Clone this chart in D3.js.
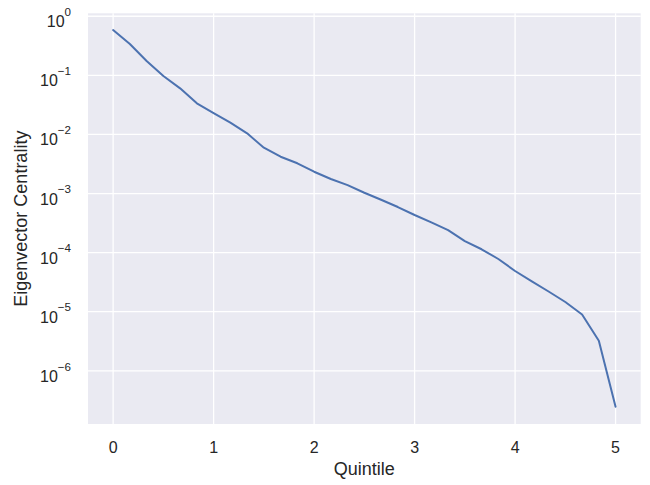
<!DOCTYPE html>
<html>
<head>
<meta charset="utf-8">
<script src="https://cdn.jsdelivr.net/npm/d3@7"></script>
<style>
  html, body { margin: 0; padding: 0; background: #ffffff; }
  svg { display: block; }
  text { font-family: "Liberation Sans", Arial, "DejaVu Sans", sans-serif; fill: #262626; }
</style>
</head>
<body>
<svg id="chart" width="650" height="485"></svg>
<script>
// Data (x = quintile, y = eigenvector centrality)
const xValues = [0, 1/6, 2/6, 3/6, 4/6, 5/6, 1, 7/6, 8/6, 9/6, 10/6, 11/6, 2, 13/6, 14/6, 15/6, 16/6, 17/6, 3,
                 19/6, 20/6, 21/6, 22/6, 23/6, 4, 25/6, 26/6, 27/6, 28/6, 29/6, 5];
const yValues = [0.584, 0.339, 0.175, 0.0973, 0.0603, 0.0336, 0.0230, 0.0158, 0.01044, 0.00596, 0.0042,
                 0.00325, 0.00234, 0.00176, 0.00139, 0.00103, 0.000786, 0.000591, 0.000433, 0.000326,
                 0.000241, 0.000157, 0.000114, 7.80e-5, 4.89e-5, 3.27e-5, 2.20e-5, 1.46e-5, 8.97e-6,
                 3.23e-6, 2.47e-7];
const xTicks = [0, 1, 2, 3, 4, 5];
const yTickExponents = [0, -1, -2, -3, -4, -5, -6];
const xLabel = "Quintile";
const yLabel = "Eigenvector Centrality";

const svg = d3.select("#chart");
const plot = { left: 88, right: 640.7, top: 13.3, bottom: 424 };

const x = d3.scaleLinear().domain([-0.25, 5.25]).range([plot.left, plot.right]);
const y = d3.scaleLog().domain([Math.pow(10, -6.90), Math.pow(10, 0.05)]).range([plot.bottom, plot.top]);

// Background
svg.append("rect")
  .attr("x", plot.left).attr("y", plot.top)
  .attr("width", plot.right - plot.left).attr("height", plot.bottom - plot.top)
  .attr("fill", "#EAEAF2");

// Grid
const grid = svg.append("g");
grid.selectAll("line.v").data(xTicks).enter().append("line")
  .attr("x1", d => x(d)).attr("x2", d => x(d))
  .attr("y1", plot.top).attr("y2", plot.bottom)
  .attr("stroke", "#ffffff").attr("stroke-width", 1.3);
grid.selectAll("line.h").data(yTickExponents).enter().append("line")
  .attr("y1", d => y(Math.pow(10, d))).attr("y2", d => y(Math.pow(10, d)))
  .attr("x1", plot.left).attr("x2", plot.right)
  .attr("stroke", "#ffffff").attr("stroke-width", 1.3);

// Line
const line = d3.line().x((d, i) => x(xValues[i])).y(d => y(d));
svg.append("path")
  .datum(yValues)
  .attr("d", line)
  .attr("fill", "none")
  .attr("stroke", "#4C72B0")
  .attr("stroke-width", 2)
  .attr("stroke-linejoin", "round")
  .attr("stroke-linecap", "round");

// X axis tick labels
svg.append("g").selectAll("text").data(xTicks).enter().append("text")
  .attr("x", d => x(d)).attr("y", 453)
  .attr("text-anchor", "middle")
  .attr("font-size", 16)
  .text(d => d);

// Y axis tick labels (10^n)
const yt = svg.append("g").selectAll("text").data(yTickExponents).enter().append("text")
  .attr("x", 71).attr("y", d => y(Math.pow(10, d)) + 11)
  .attr("text-anchor", "end")
  .attr("font-size", 16);
yt.append("tspan").text("10");
yt.append("tspan")
  .attr("font-size", 11.6)
  .attr("dy", -11.3)
  .text(d => d < 0 ? "\u2212" + Math.abs(d) : String(d));

// Axis labels
svg.append("text")
  .attr("x", (plot.left + plot.right) / 2).attr("y", 475)
  .attr("text-anchor", "middle")
  .attr("font-size", 18)
  .text(xLabel);

svg.append("text")
  .attr("transform", `translate(27, ${(plot.top + plot.bottom) / 2}) rotate(-90)`)
  .attr("text-anchor", "middle")
  .attr("font-size", 18)
  .text(yLabel);
</script>
</body>
</html>
